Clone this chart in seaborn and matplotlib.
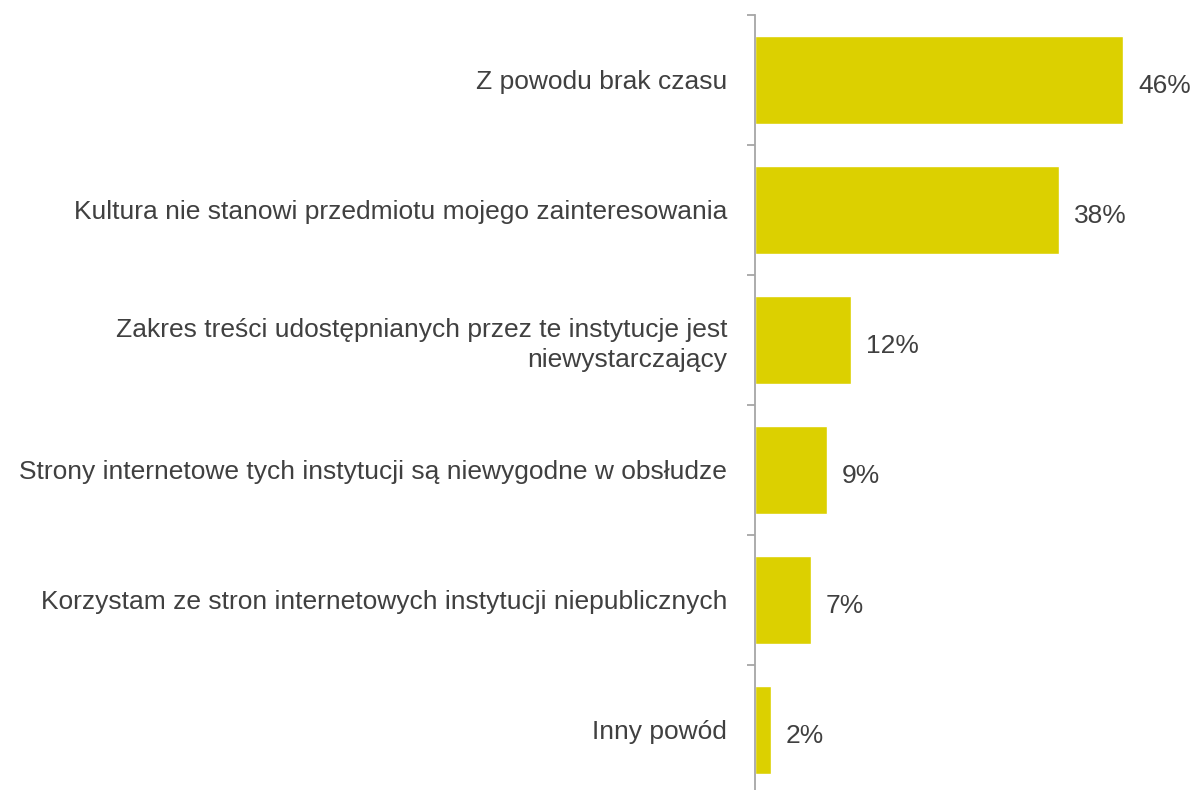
import matplotlib
matplotlib.use("Agg")
import matplotlib.pyplot as plt
import seaborn as sns
import pandas as pd
import numpy as np

categories = [
    "Z powodu brak czasu",
    "Kultura nie stanowi przedmiotu mojego zainteresowania",
    "Zakres treści udostępnianych przez te instytucje jest\nniewystarczający",
    "Strony internetowe tych instytucji są niewygodne w obsłudze",
    "Korzystam ze stron internetowych instytucji niepublicznych",
    "Inny powód",
]
values = [46, 38, 12, 9, 7, 2]
value_labels = ["46%", "38%", "12%", "9%", "7%", "2%"]

df = pd.DataFrame({"powod": categories, "procent": values})

sns.set_theme(style="white")
plt.rcParams["font.family"] = ["Liberation Sans", "DejaVu Sans"]

text_color = "#404040"
bar_color = "#DCD000"
axis_color = "#A6A6A6"

fig = plt.figure(figsize=(11.94, 7.90), dpi=100)
ax = fig.add_axes([755 / 1194, 1 - 795 / 790, 1 - 755 / 1194, 780 / 790])

sns.barplot(data=df, x="procent", y="powod", orient="h", color=bar_color,
            saturation=1, width=0.67, ax=ax)

ax.set_xlim(0, 439 / 8)
ax.set_ylim(len(categories) - 0.5, -0.5)
ax.set_xlabel("")
ax.set_ylabel("")
ax.set_xticks([])

for s in ["top", "right", "bottom"]:
    ax.spines[s].set_visible(False)
ax.spines["left"].set_color(axis_color)
ax.spines["left"].set_linewidth(1.3)

ax.set_yticks(np.arange(len(categories)))
ax.set_yticklabels(categories, fontsize=19, color=text_color)
for t in ax.get_yticklabels():
    t.set_linespacing(1.3)
ax.tick_params(axis="y", which="major", length=0, pad=20)
ax.set_yticks(np.arange(-0.5, len(categories), 1.0), minor=True)
ax.tick_params(axis="y", which="minor", length=6, width=1.3,
               color=axis_color, direction="out", left=True)

for i, (v, lab) in enumerate(zip(values, value_labels)):
    ax.annotate(lab, xy=(v, i), xytext=(15, -6), textcoords="offset pixels",
                ha="left", va="center", fontsize=19, color=text_color)

fig.savefig("out.png", dpi=100)
